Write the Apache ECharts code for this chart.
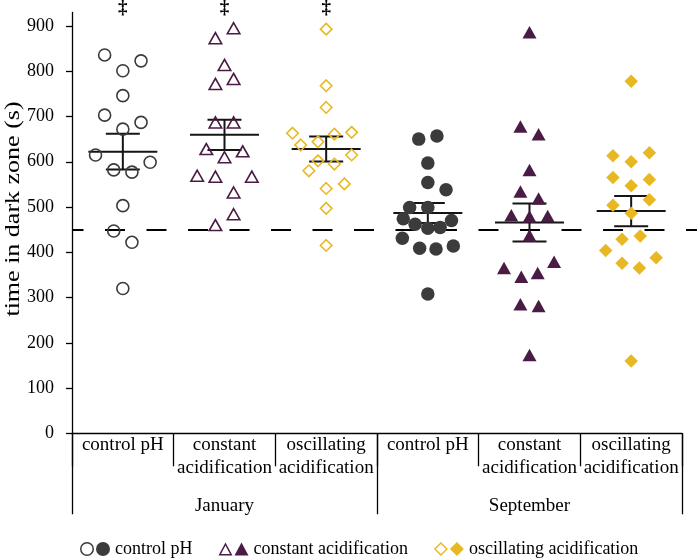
<!DOCTYPE html>
<html><head><meta charset="utf-8">
<script src="https://cdn.jsdelivr.net/npm/echarts@6/dist/echarts.min.js"></script>
<style>html,body{margin:0;padding:0;background:#fff}#c{width:697px;height:558px}</style>
</head><body><div id="c"></div>
<script>
// ---------- data ----------
const categories = ['control pH', 'constant\nacidification', 'oscillating\nacidification', 'control pH', 'constant\nacidification', 'oscillating\nacidification'];
const months = ['January', 'September'];
const groupNames = ['control pH', 'constant acidification', 'oscillating acidification'];
const yTicks = [0, 100, 200, 300, 400, 500, 600, 700, 800, 900];
const yTitle = 'time in dark zone (s)';
const sigMarks = ['‡', '‡', '‡', '', '', ''];
const referenceLine = 450;

const janControl = [836, 823, 801, 746, 703, 687, 672, 615, 599, 582, 577, 503, 447, 422, 320];
const janControlSlot = [-2, 2, 0, 0, -2, 2, 0, -3, 3, -1, 1, 0, -1, 1, 0];
const janConstant = [895, 873, 814, 783, 772, 687, 687, 628, 623, 610, 569, 567, 567, 532, 484, 460];
const janConstantSlot = [1, -1, 0, 1, -1, -1, 1, -2, 2, 0, -3, -1, 3, 1, 1, -1];
const janOscillating = [893, 768, 720, 663, 665, 661, 637, 644, 615, 602, 595, 580, 551, 541, 497, 415];
const janOscillatingSlot = [0, 0, 0, -3.7, 2.8, 0.9, -2.8, -0.9, 2.8, -0.9, 0.9, -1.9, 2, 0, 0, 0];
const sepControl = [650, 657, 597, 554, 538, 499, 499, 474, 470, 462, 453, 455, 431, 409, 407, 414, 308];
const sepControlSlot = [-1, 1, 0, 0, 2, -2, 0, -2.7, 2.6, -1.4, 0, 1.35, -2.8, -0.9, 0.9, 2.8, 0];
const sepConstant = [886, 678, 661, 582, 534, 519, 482, 479, 480, 437, 379, 365, 346, 354, 285, 281, 173];
const sepConstantSlot = [0, -1, 1, 0, -1, 1, -2, 0, 2, 0, 2.7, -2.8, -0.9, 0.9, -1, 1, 0];
const sepOscillating = [778, 613, 620, 600, 565, 561, 547, 504, 516, 486, 429, 436, 404, 388, 376, 365, 160];
const sepOscillatingSlot = [0, -2, 2, 0, -2, 2, 0, -2, 2, 0, -1, 1, -2.8, 2.75, -1, 0.9, 0];

// ---------- styling / layout ----------
const FONT = 'Liberation Serif';
const C_GRAY = '#3b3b3b', C_PURPLE = '#4a1c45', C_GOLD = '#e8b823';
const W = 697, GL = 72, GR = 15, GT = 12.4, GB = 124.7;
const YMAX = 930;
const catW = (W - GL - GR) / 6;
const xMax0 = -0.5 + (W - GL) / catW;
const SLOT = 9.1 / catW;
const MEAN_HALF = 34.5 / catW, CAP_HALF = 17 / catW;

const groups = [
  {vals: janControl, slots: janControlSlot, name: groupNames[0], symbol: 'circle', open: true, color: C_GRAY, size: 12},
  {vals: janConstant, slots: janConstantSlot, name: groupNames[1], symbol: 'triangle', open: true, color: C_PURPLE, size: [12.5, 11]},
  {vals: janOscillating, slots: janOscillatingSlot, name: groupNames[2], symbol: 'diamond', open: true, color: C_GOLD, size: [11.5, 11.5]},
  {vals: sepControl, slots: sepControlSlot, name: groupNames[0], symbol: 'circle', open: false, color: C_GRAY, size: 13.5},
  {vals: sepConstant, slots: sepConstantSlot, name: groupNames[1], symbol: 'triangle', open: false, color: C_PURPLE, size: [14, 12.5]},
  {vals: sepOscillating, slots: sepOscillatingSlot, name: groupNames[2], symbol: 'diamond', open: false, color: C_GOLD, size: [13.5, 13.5]}
];

function stats(v) {
  const n = v.length;
  const m = v.reduce((a, b) => a + b, 0) / n;
  const sd = Math.sqrt(v.reduce((a, b) => a + (b - m) * (b - m), 0) / (n - 1));
  return [m, sd / Math.sqrt(n)];
}

const ICON_CIRCLE = 'path://M0,7A7,7 0 1,1 14,7A7,7 0 1,1 0,7ZM1.5,7A5.5,5.5 0 1,0 12.5,7A5.5,5.5 0 1,0 1.5,7ZM16,7A7,7 0 1,1 30,7A7,7 0 1,1 16,7Z';
const ICON_TRI = 'path://M0,13L7,0L14,13ZM2.5,11.6L11.5,11.6L7,3Z M16,13L23,0L30,13Z';
const ICON_DIA = 'path://M7,0L14,7L7,14L0,7ZM7,2L2,7L7,12L12,7ZM23,0L30,7L23,14L16,7Z';

const axisLine = {color: '#000', width: 1.3};
const txt = {fontFamily: FONT, fontSize: 18, color: '#000'};
const txtCat = {fontFamily: FONT, fontSize: 19, color: '#000'};

const series = groups.map((g, i) => ({
  type: 'scatter',
  name: g.name,
  xAxisIndex: 0, yAxisIndex: 0,
  data: g.vals.map((v, k) => [i + g.slots[k] * SLOT, v]),
  symbol: g.symbol,
  symbolSize: g.size,
  itemStyle: g.open ? {color: 'rgba(255,255,255,0)', borderColor: g.color, borderWidth: 1.6, opacity: 1}
                    : {color: g.color, opacity: 1},
  emphasis: {disabled: true},
  z: 4
}));

series[0].markLine = {
  silent: true, symbol: ['none', 'none'],
  data: [{yAxis: referenceLine}],
  label: {show: false},
  lineStyle: {color: '#000', width: 2, type: [20, 21.5], dashOffset: 8.5},
  z: 1
};

series.push({
  type: 'custom',
  xAxisIndex: 0, yAxisIndex: 0,
  z: 3,
  silent: true,
  data: groups.map((g, i) => [i].concat(stats(g.vals))),
  renderItem: function (params, api) {
    const x = api.value(0), m = api.value(1), s = api.value(2);
    const c = api.coord([x, m]), t = api.coord([x, m + s]), b = api.coord([x, m - s]);
    const hw = api.size([MEAN_HALF, 0])[0], cw = api.size([CAP_HALF, 0])[0];
    const st = {stroke: '#151515', lineWidth: 2};
    return {type: 'group', children: [
      {type: 'line', shape: {x1: c[0] - hw, y1: c[1], x2: c[0] + hw, y2: c[1]}, style: st},
      {type: 'line', shape: {x1: t[0] - cw, y1: t[1], x2: t[0] + cw, y2: t[1]}, style: st},
      {type: 'line', shape: {x1: b[0] - cw, y1: b[1], x2: b[0] + cw, y2: b[1]}, style: st},
      {type: 'line', shape: {x1: c[0], y1: t[1], x2: c[0], y2: b[1]}, style: st}
    ]};
  }
});

series.push({
  type: 'scatter',
  xAxisIndex: 0, yAxisIndex: 0,
  silent: true,
  clip: false,
  symbolSize: 1,
  itemStyle: {color: 'rgba(0,0,0,0)'},
  data: sigMarks.map((s, i) => s ? [i, YMAX, s] : null).filter(Boolean),
  label: {show: true, position: 'inside', offset: [0, -4], formatter: p => p.value[2],
          fontFamily: FONT, fontSize: 19, fontWeight: 'bold', color: '#000', opacity: 1}
});

const option = {
  animation: false,
  backgroundColor: '#fff',
  grid: [
    {left: GL, right: 0, top: GT, bottom: GB, containLabel: false, outerBoundsMode: 'none'},
    {left: GL, right: GR, top: GT, bottom: GB, containLabel: false, outerBoundsMode: 'none'}
  ],
  graphic: [{
    type: 'text', x: 14, y: 209, silent: true,
    rotation: Math.PI / 2, scaleX: 1.3,
    style: {text: yTitle, font: '20px "Liberation Serif"', fill: '#000', align: 'center', verticalAlign: 'middle'}
  }],
  xAxis: [
    {type: 'value', gridIndex: 0, min: -0.5, max: xMax0, show: false},
    {type: 'category', gridIndex: 1, data: categories, position: 'bottom',
     axisLine: {show: true, onZero: false, lineStyle: axisLine},
     axisTick: {show: true, length: 33, interval: 0, alignWithLabel: false, lineStyle: axisLine},
     axisLabel: Object.assign({interval: 0, margin: 0, lineHeight: 23}, txtCat)},
    {type: 'category', gridIndex: 1, data: months, position: 'bottom',
     axisLine: {show: false, onZero: false},
     axisTick: {show: true, length: 81, interval: 0, alignWithLabel: false, lineStyle: axisLine},
     axisLabel: Object.assign({interval: 0, margin: 63}, txtCat)}
  ],
  yAxis: [
    {type: 'value', gridIndex: 0, min: 0, max: YMAX, interval: 100, position: 'left',
     axisLine: {show: true, onZero: false, lineStyle: axisLine},
     axisTick: {show: true, length: 6, customValues: yTicks, lineStyle: axisLine},
     axisLabel: Object.assign({margin: 18, customValues: yTicks}, txt),
     splitLine: {show: false}},
    {type: 'value', gridIndex: 1, min: 0, max: YMAX, show: false}
  ],
  legend: {
    data: [
      {name: groupNames[0], icon: ICON_CIRCLE, itemStyle: {color: C_GRAY, borderWidth: 0}},
      {name: groupNames[1], icon: ICON_TRI, itemStyle: {color: C_PURPLE, borderWidth: 0}},
      {name: groupNames[2], icon: ICON_DIA, itemStyle: {color: C_GOLD, borderWidth: 0}}
    ],
    left: 80, top: 540, padding: 0, itemWidth: 30, itemHeight: 14, itemGap: 26,
    selectedMode: false,
    textStyle: txt
  },
  series: series
};

const chart = echarts.init(document.getElementById('c'), null, {renderer: 'canvas'});
chart.setOption(option);
</script>
</body></html>
